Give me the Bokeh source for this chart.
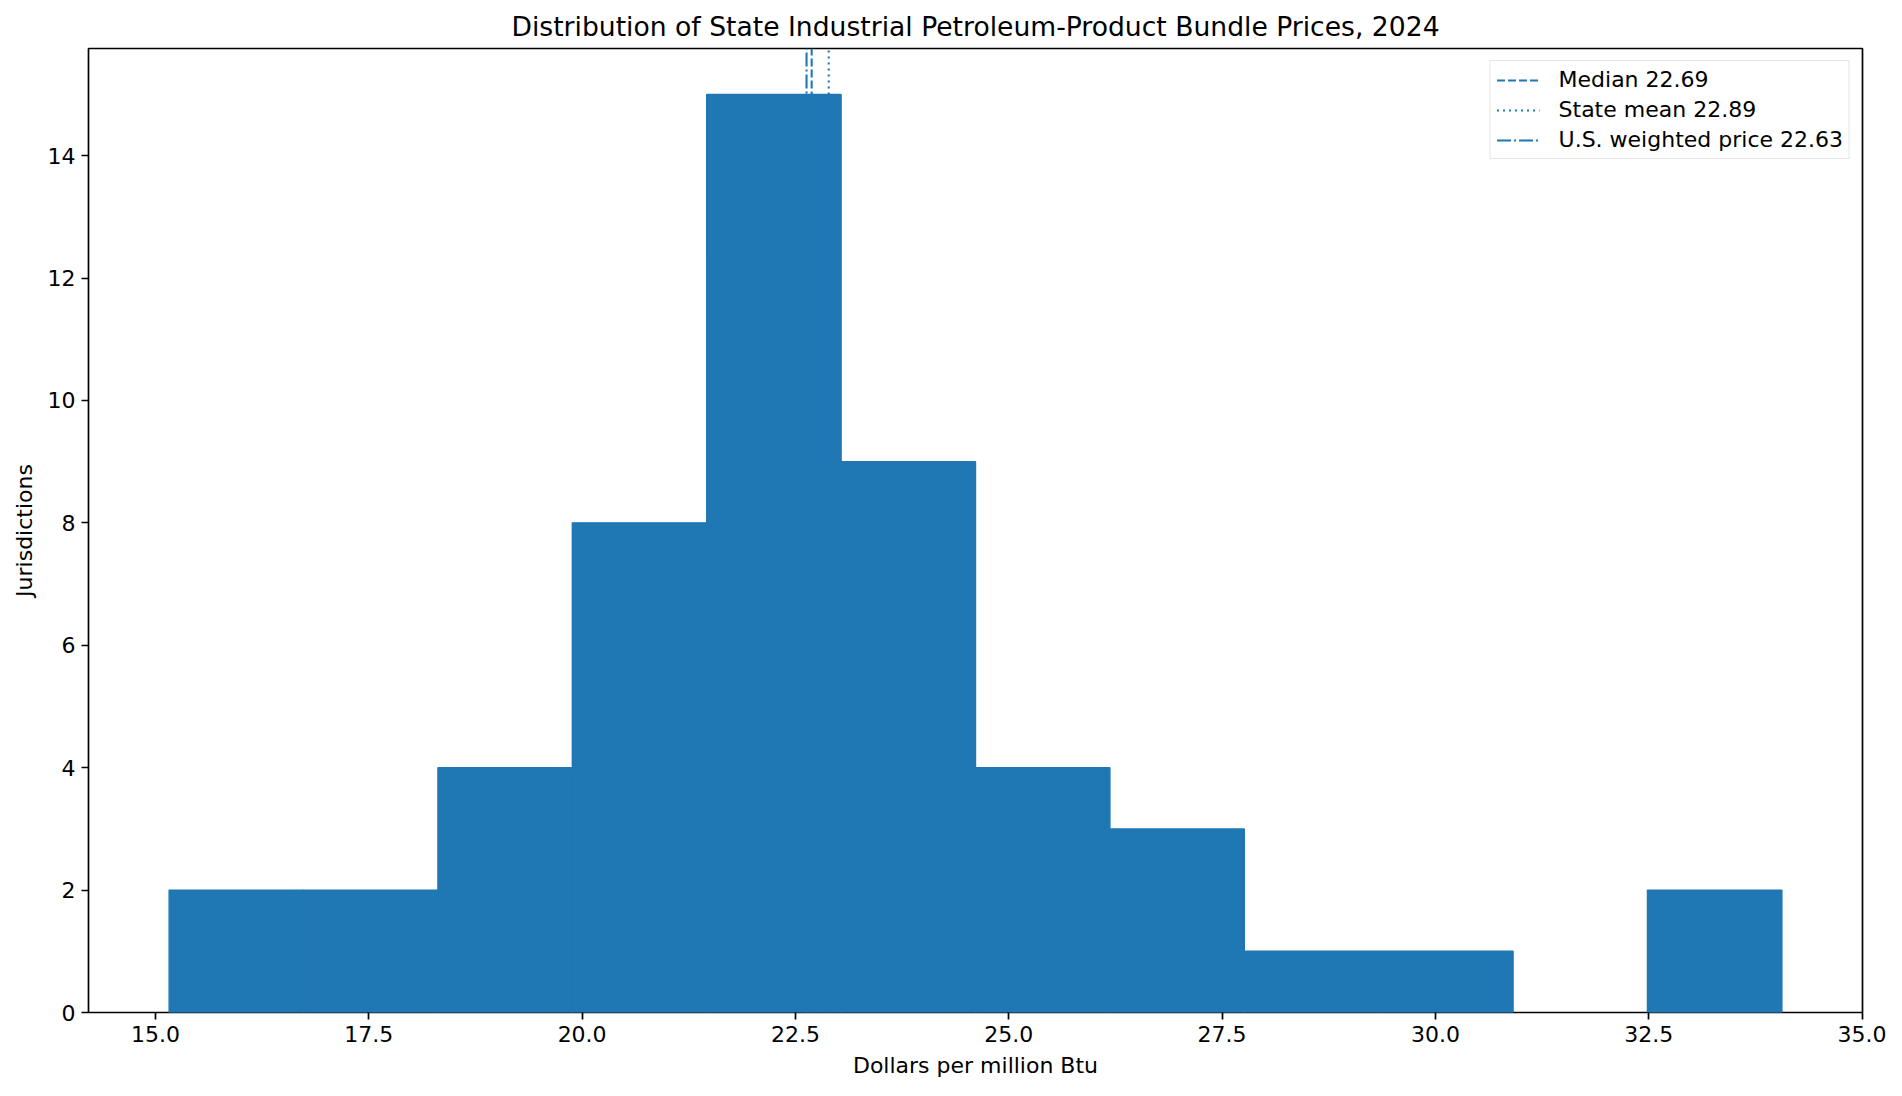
from bokeh.plotting import figure
from bokeh.models import Range1d, FixedTicker, PrintfTickFormatter, Legend
from bokeh.embed import file_html
from bokeh.resources import INLINE
import numpy as np

# histogram of 51 jurisdictions (50 states + DC), 12 equal bins
bin_low = 15.16
bin_high = 34.06
counts = [2, 2, 4, 8, 15, 9, 4, 3, 1, 1, 0, 2]

median_price = 22.69
mean_price = 22.89
us_weighted_price = 22.63

x_ticks = [15.0, 17.5, 20.0, 22.5, 25.0, 27.5, 30.0, 32.5, 35.0]
y_ticks = [0, 2, 4, 6, 8, 10, 12, 14]

BLUE = "#1f77b4"
FONT = "DejaVu Sans"

edges = np.linspace(bin_low, bin_high, len(counts) + 1)
pad = 0.05 * (bin_high - bin_low)
y_top = max(counts) * 1.05

p = figure(width=1886, height=1080, output_backend="svg", toolbar_location=None,
           title="Distribution of State Industrial Petroleum-Product Bundle Prices, 2024",
           x_range=Range1d(bin_low - pad, bin_high + pad), y_range=Range1d(0, y_top),
           x_axis_label="Dollars per million Btu", y_axis_label="Jurisdictions",
           min_border_left=88, min_border_right=24, min_border_top=48, min_border_bottom=65)

# skip empty bins so nothing is stroked along the axis
keep = [i for i, c in enumerate(counts) if c > 0]
p.quad(left=edges[:-1][keep], right=edges[1:][keep], bottom=0, top=[counts[i] for i in keep],
       fill_color=BLUE, line_color=BLUE, line_width=1.4)

# reference lines
l1 = p.line([median_price, median_price], [0, y_top], color=BLUE, line_width=2.1, line_dash="8 3")
l2 = p.line([mean_price, mean_price], [0, y_top], color=BLUE, line_width=2.1, line_dash="2 4")
l3 = p.line([us_weighted_price, us_weighted_price], [0, y_top], color=BLUE, line_width=2.1,
            line_dash="14 3 2 3")

legend = Legend(items=[(f"Median {median_price:.2f}", [l1]),
                       (f"State mean {mean_price:.2f}", [l2]),
                       (f"U.S. weighted price {us_weighted_price:.2f}", [l3])],
                location="top_right")
legend.margin = 12
legend.padding = 6
legend.spacing = 5
legend.glyph_width = 43
legend.glyph_height = 18
legend.label_height = 18
legend.label_standoff = 19
legend.label_text_font = FONT
legend.label_text_font_size = "22px"
legend.label_text_color = "black"
legend.border_line_color = "#cccccc"
legend.border_line_width = 1.5
legend.background_fill_alpha = 0.8
p.add_layout(legend)

p.title.text_font = FONT
p.title.text_font_size = "26.6px"
p.title.text_font_style = "normal"
p.title.text_color = "black"
p.title.align = "center"
p.title.standoff = 13

p.xgrid.visible = False
p.ygrid.visible = False
p.outline_line_color = "black"
p.outline_line_width = 1.7
p.outline_line_alpha = 1

p.xaxis.ticker = FixedTicker(ticks=x_ticks)
p.xaxis.formatter = PrintfTickFormatter(format="%.1f")
p.yaxis.ticker = FixedTicker(ticks=y_ticks)

for ax in (p.xaxis[0], p.yaxis[0]):
    ax.axis_line_color = None
    ax.major_tick_line_color = "black"
    ax.major_tick_line_width = 1.7
    ax.major_tick_out = 7
    ax.major_tick_in = 0
    ax.minor_tick_line_color = None
    ax.major_label_text_font = FONT
    ax.major_label_text_font_size = "22px"
    ax.major_label_text_color = "black"
    ax.major_label_standoff = 6
    ax.axis_label_text_font = FONT
    ax.axis_label_text_font_size = "22px"
    ax.axis_label_text_font_style = "normal"
    ax.axis_label_text_color = "black"
    ax.axis_label_standoff = 8

open("out.html", "w").write(file_html(p, INLINE))
